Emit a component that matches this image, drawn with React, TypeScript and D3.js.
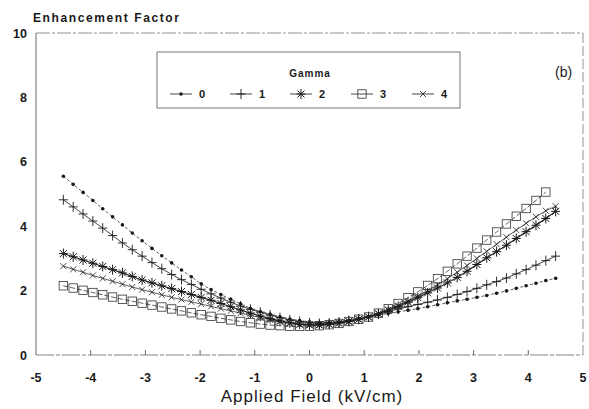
import React from "react";
import * as d3 from "d3";

const fields = [-4.5, -4.32, -4.14, -3.96, -3.78, -3.6, -3.42, -3.24, -3.06, -2.88, -2.7, -2.52, -2.34, -2.16, -1.98, -1.8, -1.62, -1.44, -1.26, -1.08, -0.9, -0.72, -0.54, -0.36, -0.18, 0, 0.18, 0.36, 0.54, 0.72, 0.9, 1.08, 1.26, 1.44, 1.62, 1.8, 1.98, 2.16, 2.34, 2.52, 2.7, 2.88, 3.06, 3.24, 3.42, 3.6, 3.78, 3.96, 4.14, 4.32, 4.5];

const gamma0 = [5.55, 5.30, 5.05, 4.80, 4.54, 4.29, 4.04, 3.79, 3.55, 3.31, 3.08, 2.86, 2.64, 2.43, 2.21, 2.03, 1.88, 1.73, 1.59, 1.45, 1.35, 1.27, 1.19, 1.12, 1.07, 1.03, 1.01, 1.01, 1.03, 1.07, 1.13, 1.19, 1.24, 1.29, 1.34, 1.39, 1.44, 1.50, 1.56, 1.62, 1.68, 1.73, 1.79, 1.85, 1.92, 1.99, 2.07, 2.15, 2.23, 2.31, 2.38];
const gamma1 = [4.82, 4.60, 4.38, 4.16, 3.94, 3.71, 3.48, 3.27, 3.07, 2.87, 2.68, 2.50, 2.34, 2.19, 2.04, 1.90, 1.77, 1.64, 1.52, 1.42, 1.33, 1.24, 1.16, 1.09, 1.04, 1.00, 0.98, 0.99, 1.02, 1.07, 1.12, 1.19, 1.27, 1.35, 1.43, 1.50, 1.57, 1.64, 1.71, 1.79, 1.88, 1.97, 2.07, 2.18, 2.28, 2.39, 2.52, 2.65, 2.79, 2.93, 3.07];
const gamma2 = [3.15, 3.05, 2.95, 2.85, 2.75, 2.65, 2.55, 2.44, 2.33, 2.24, 2.15, 2.06, 1.97, 1.88, 1.79, 1.70, 1.60, 1.50, 1.40, 1.30, 1.21, 1.13, 1.06, 1.00, 0.96, 0.94, 0.94, 0.96, 1.00, 1.05, 1.11, 1.18, 1.28, 1.39, 1.51, 1.64, 1.78, 1.93, 2.08, 2.24, 2.41, 2.60, 2.81, 3.02, 3.21, 3.41, 3.62, 3.83, 4.03, 4.24, 4.46];
const gamma3 = [2.15, 2.08, 2.01, 1.94, 1.87, 1.80, 1.73, 1.67, 1.61, 1.55, 1.49, 1.43, 1.37, 1.31, 1.25, 1.20, 1.14, 1.09, 1.04, 1.00, 0.96, 0.93, 0.91, 0.89, 0.89, 0.89, 0.91, 0.94, 0.98, 1.04, 1.11, 1.18, 1.30, 1.44, 1.60, 1.78, 1.96, 2.16, 2.37, 2.60, 2.83, 3.07, 3.32, 3.57, 3.82, 4.07, 4.31, 4.55, 4.80, 5.06];
const gamma4 = [2.76, 2.66, 2.57, 2.47, 2.38, 2.29, 2.20, 2.11, 2.03, 1.95, 1.87, 1.79, 1.72, 1.65, 1.58, 1.51, 1.44, 1.37, 1.30, 1.23, 1.16, 1.09, 1.03, 0.98, 0.94, 0.92, 0.92, 0.94, 0.98, 1.03, 1.10, 1.18, 1.28, 1.40, 1.53, 1.67, 1.83, 2.00, 2.18, 2.37, 2.57, 2.78, 3.00, 3.22, 3.44, 3.66, 3.88, 4.09, 4.29, 4.48, 4.62];

const seriesNames = ["0", "1", "2", "3", "4"];
const seriesValues = [gamma0, gamma1, gamma2, gamma3, gamma4];
const markerKinds = ["dot", "plus", "star", "square", "cross"];
const xTicks = [-5, -4, -3, -2, -1, 0, 1, 2, 3, 4, 5];
const yTicks = [0, 2, 4, 6, 8, 10];

const FONT = "'Liberation Sans', Arial, Helvetica, sans-serif";
const INK = "#1a1a1a";

function Marker({ kind, x, y }: { kind: string; x: number; y: number }) {
  const t = `translate(${x},${y})`;
  if (kind === "dot") return <circle cx={x} cy={y} r={1.8} fill={INK} />;
  if (kind === "plus")
    return <path transform={t} d="M-4.5,0H4.5M0,-5V5" stroke={INK} strokeWidth={0.9} fill="none" />;
  if (kind === "star")
    return (
      <path
        transform={t}
        d="M-4.5,0H4.5M0,-5V5M-3.5,-3.5L3.5,3.5M-3.5,3.5L3.5,-3.5"
        stroke={INK}
        strokeWidth={1}
        fill="none"
      />
    );
  if (kind === "square")
    return <rect x={x - 4.2} y={y - 4.2} width={8.4} height={8.4} stroke="#333" strokeWidth={0.8} fill="none" />;
  return <path transform={t} d="M-3,-3L3,3M-3,3L3,-3" stroke={INK} strokeWidth={0.8} fill="none" />;
}

export default function App() {
  const W = 589;
  const H = 409;
  const x = d3.scaleLinear().domain([-5, 5]).range([36, 583]);
  const y = d3.scaleLinear().domain([0, 10]).range([355, 33]);
  const line = d3
    .line<[number, number]>()
    .x((d) => x(d[0]))
    .y((d) => y(d[1]));

  const legendX = [170, 230, 290, 351, 412];
  const widths = [0.7, 0.8, 1.1, 0.7, 0.7];

  return (
    <svg width={W} height={H} style={{ position: "absolute", left: 0, top: 0, background: "#fff" }}>
      <rect width={W} height={H} fill="#fff" />
      {/* frame */}
      <line x1={x(-5)} x2={x(-5)} y1={y(10)} y2={y(0)} stroke="#444" strokeWidth={0.8} />
      <line x1={x(-5)} x2={x(5)} y1={y(10)} y2={y(10)} stroke="#666" strokeWidth={0.7} strokeDasharray="14,2,3,2" />
      <line x1={x(5)} x2={x(5)} y1={y(10)} y2={y(0)} stroke="#666" strokeWidth={0.7} strokeDasharray="10,3" />
      <line x1={x(-5)} x2={x(5)} y1={y(0)} y2={y(0)} stroke="#555" strokeWidth={0.7} strokeDasharray="18,2,4,2" />
      {xTicks.slice(1, -1).map((t) => (
        <line key={t} x1={x(t)} x2={x(t)} y1={y(0)} y2={y(0) - 5} stroke="#444" strokeWidth={0.8} />
      ))}
      {/* tick labels */}
      {xTicks.map((t) => (
        <text key={t} x={x(t)} y={382} textAnchor="middle" fontFamily={FONT} fontSize={12.5} fontWeight="bold" fill={INK}>
          {t < 0 ? `-${Math.abs(t)}` : t}
        </text>
      ))}
      {yTicks.map((t) => (
        <text key={t} x={27} y={y(t) + 4.5} textAnchor="end" fontFamily={FONT} fontSize={12.5} fontWeight="bold" fill={INK}>
          {t}
        </text>
      ))}
      <text x={33} y={22} fontFamily={FONT} fontSize={12} fontWeight="bold" letterSpacing={1.6} fill={INK}>
        Enhancement Factor
      </text>
      <text x={312} y={402} textAnchor="middle" fontFamily={FONT} fontSize={17} letterSpacing={1} fill={INK}>
        Applied Field (kV/cm)
      </text>
      <text x={555} y={77} fontFamily={FONT} fontSize={14} fill={INK}>
        (b)
      </text>
      {/* series */}
      {seriesValues.map((vals, i) => {
        const pts: [number, number][] = vals.map((v, j) => [fields[j], v]);
        return (
          <g key={i}>
            <path
              d={line(pts) || ""}
              fill="none"
              stroke={INK}
              strokeWidth={widths[i]}
              strokeDasharray={i === 0 ? "3,2" : i === 3 ? "5,2" : undefined}
            />
            {pts.map((p, j) => (
              <Marker key={j} kind={markerKinds[i]} x={x(p[0])} y={y(p[1])} />
            ))}
          </g>
        );
      })}
      {/* legend */}
      <rect x={157} y={52} width={303} height={56} fill="#fff" stroke="#555" strokeWidth={0.8} />
      <text x={310} y={77} textAnchor="middle" fontFamily={FONT} fontSize={10} fontWeight="bold" letterSpacing={1} fill={INK}>
        Gamma
      </text>
      {seriesNames.map((n, i) => (
        <g key={n}>
          <line x1={legendX[i]} x2={legendX[i] + 22} y1={94} y2={94} stroke={INK} strokeWidth={0.8} />
          <Marker kind={markerKinds[i]} x={legendX[i] + 11} y={94} />
          <text x={legendX[i] + 29} y={98} fontFamily={FONT} fontSize={11} fontWeight="bold" fill={INK}>
            {n}
          </text>
        </g>
      ))}
    </svg>
  );
}
